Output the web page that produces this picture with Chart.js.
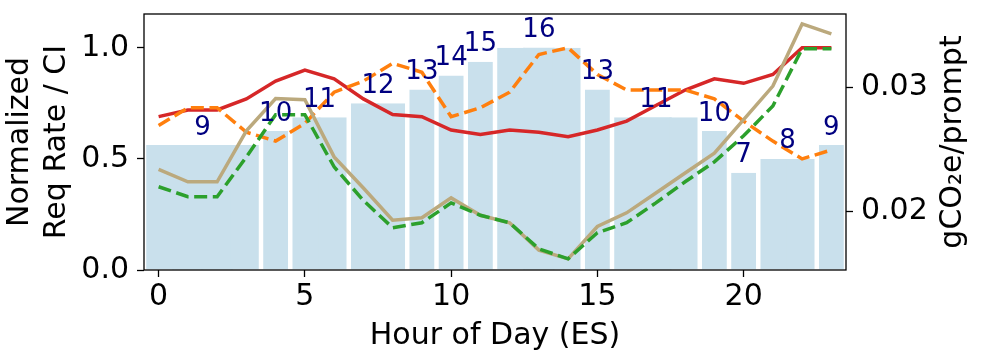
<!DOCTYPE html>
<html>
<head>
<script src="https://cdn.jsdelivr.net/npm/chart.js"></script>
<title>Req rate / CI</title>
<style>
  html, body { margin: 0; padding: 0; background: #fff; }
  #wrap { width: 996px; height: 356px; }
</style>
</head>
<body>
<div id="wrap"><canvas id="myChart"></canvas></div>
<script>
// hourly data
const hours = [0,1,2,3,4,5,6,7,8,9,10,11,12,13,14,15,16,17,18,19,20,21,22,23];
const instances = [9,9,9,9,10,11,11,12,12,13,14,15,16,16,16,13,11,11,11,10,7,8,8,9];
const carbonIntensity = [0.69,0.72,0.72,0.77,0.85,0.90,0.86,0.77,0.70,0.69,0.63,0.61,0.63,0.62,0.60,0.63,0.67,0.74,0.81,0.86,0.84,0.88,1.00,1.00];
const reqRate = [0.65,0.73,0.73,0.62,0.58,0.66,0.80,0.85,0.93,0.89,0.69,0.73,0.80,0.97,1.00,0.88,0.81,0.81,0.81,0.77,0.67,0.58,0.50,0.54];
const co2Static = [0.0234,0.0224,0.0224,0.0265,0.0291,0.0290,0.0244,0.0219,0.0193,0.0195,0.0211,0.0197,0.0191,0.0169,0.0162,0.0188,0.0199,0.0215,0.0231,0.0247,0.0274,0.0301,0.0351,0.0343];
const co2Scaled = [0.0220,0.0212,0.0212,0.0244,0.0278,0.0278,0.0236,0.0209,0.0187,0.0191,0.0207,0.0197,0.0191,0.0170,0.0162,0.0183,0.0191,0.0207,0.0224,0.0240,0.0261,0.0285,0.0331,0.0331];
const xTicks = [0,5,10,15,20];
const leftTicks = [0,0.5,1.0];
const rightTicks = [0.02,0.03];

const maxInst = Math.max(...instances);
const FONT = '"DejaVu Sans", sans-serif';

function pts(arr) {
  return hours.map((h, i) => ({x: h, y: arr[i]}));
}

// bars overlap a little so no seams show; white edge only where the count changes
function barBorder(c) {
  const i = c.dataIndex;
  if (i === undefined) return 0;
  const first = i === 0 || instances[i - 1] !== instances[i];
  const last = i === instances.length - 1 || instances[i + 1] !== instances[i];
  return {left: first ? 3.4 : 0, right: last ? 3.4 : 0, top: 0, bottom: 0};
}

const extras = {
  id: 'extras',
  afterDatasetsDraw(chart) {
    const {ctx, chartArea: a, scales: {x, y}} = chart;
    ctx.save();
    // frame
    ctx.strokeStyle = '#000';
    ctx.lineWidth = 1.3;
    ctx.strokeRect(a.left, a.top, a.right - a.left, a.bottom - a.top);
    // instance counts over bars
    ctx.font = '26px ' + FONT;
    ctx.fillStyle = '#000080';
    ctx.textAlign = 'center';
    ctx.textBaseline = 'alphabetic';
    let s = 0;
    for (let i = 1; i <= instances.length; i++) {
      if (i === instances.length || instances[i] !== instances[s]) {
        const mid = (hours[s] + hours[i - 1]) / 2;
        ctx.fillText(String(instances[s]), x.getPixelForValue(mid), y.getPixelForValue(instances[s] / maxInst) - 10.5);
        s = i;
      }
    }
    // right axis title, reading upwards like the left one
    ctx.fillStyle = '#000';
    ctx.font = '30px ' + FONT;
    ctx.textBaseline = 'middle';
    ctx.translate(953, (a.top + a.bottom) / 2);
    ctx.rotate(-Math.PI / 2);
    ctx.fillText('gCO\u2082e/prompt', 0, 0);
    ctx.restore();
  }
};

const tickGrid = {drawOnChartArea: false, tickLength: 7, tickWidth: 1.3, tickColor: '#000'};

new Chart(document.getElementById('myChart'), {
  type: 'bar',
  data: {
    datasets: [
      {type: 'line', label: 'gCO2e/prompt scaled', data: pts(co2Scaled), yAxisID: 'yRight',
       borderColor: '#2ca02c', borderWidth: 3.5, borderDash: [13, 5.6], pointRadius: 0, order: 1},
      {type: 'line', label: 'gCO2e/prompt static', data: pts(co2Static), yAxisID: 'yRight',
       borderColor: '#bba97d', borderWidth: 3.5, pointRadius: 0, order: 2},
      {type: 'line', label: 'Req Rate', data: pts(reqRate), yAxisID: 'y',
       borderColor: '#ff7f0e', borderWidth: 3.5, borderDash: [13, 5.6], pointRadius: 0, order: 3},
      {type: 'line', label: 'CI', data: pts(carbonIntensity), yAxisID: 'y',
       borderColor: '#d62728', borderWidth: 3.5, pointRadius: 0, order: 4},
      {type: 'bar', label: 'Instances', data: hours.map((h, i) => ({x: h, y: instances[i] / maxInst})), yAxisID: 'y',
       backgroundColor: '#c9e0ec', borderColor: '#ffffff', borderWidth: barBorder, borderSkipped: false,
       barPercentage: 1.08, categoryPercentage: 1, inflateAmount: 0, order: 5}
    ]
  },
  options: {
    responsive: true,
    maintainAspectRatio: false,
    animation: false,
    layout: {padding: {top: 14, left: 0, right: 0, bottom: 0}},
    plugins: {legend: {display: false}, tooltip: {enabled: false}},
    scales: {
      x: {
        type: 'linear', min: -0.5, max: 23.5, offset: false,
        grid: Object.assign({offset: false}, tickGrid),
        border: {display: false},
        ticks: {font: {family: FONT, size: 30}, color: '#000', padding: 2, maxRotation: 0},
        afterBuildTicks: s => { s.ticks = xTicks.map(v => ({value: v})); },
        afterFit: s => { s.height = 86; s.paddingLeft = 0; s.paddingRight = 0; },
        title: {display: true, text: 'Hour of Day (ES)', color: '#000', font: {family: FONT, size: 30}, padding: {top: 0, bottom: 2}}
      },
      y: {
        position: 'left', min: 0, max: 1.152,
        grid: tickGrid,
        border: {display: false},
        ticks: {font: {family: FONT, size: 30}, color: '#000', padding: 8, callback: v => v.toFixed(1)},
        afterBuildTicks: s => { s.ticks = leftTicks.map(v => ({value: v})); },
        afterFit: s => { s.width = 144; s.paddingTop = 0; s.paddingBottom = 0; },
        title: {display: true, text: ['Normalized', 'Req Rate / CI'], color: '#000', font: {family: FONT, size: 30, lineHeight: 1.22}, padding: {top: 2, bottom: 0}}
      },
      yRight: {
        position: 'right', min: 0.0153, max: 0.0359,
        grid: tickGrid,
        border: {display: false},
        ticks: {font: {family: FONT, size: 30}, color: '#000', padding: 8, callback: v => v.toFixed(2)},
        afterBuildTicks: s => { s.ticks = rightTicks.map(v => ({value: v})); },
        afterFit: s => { s.width = 150; s.paddingTop = 0; s.paddingBottom = 0; }
      }
    }
  },
  plugins: [extras]
});
</script>
</body>
</html>
